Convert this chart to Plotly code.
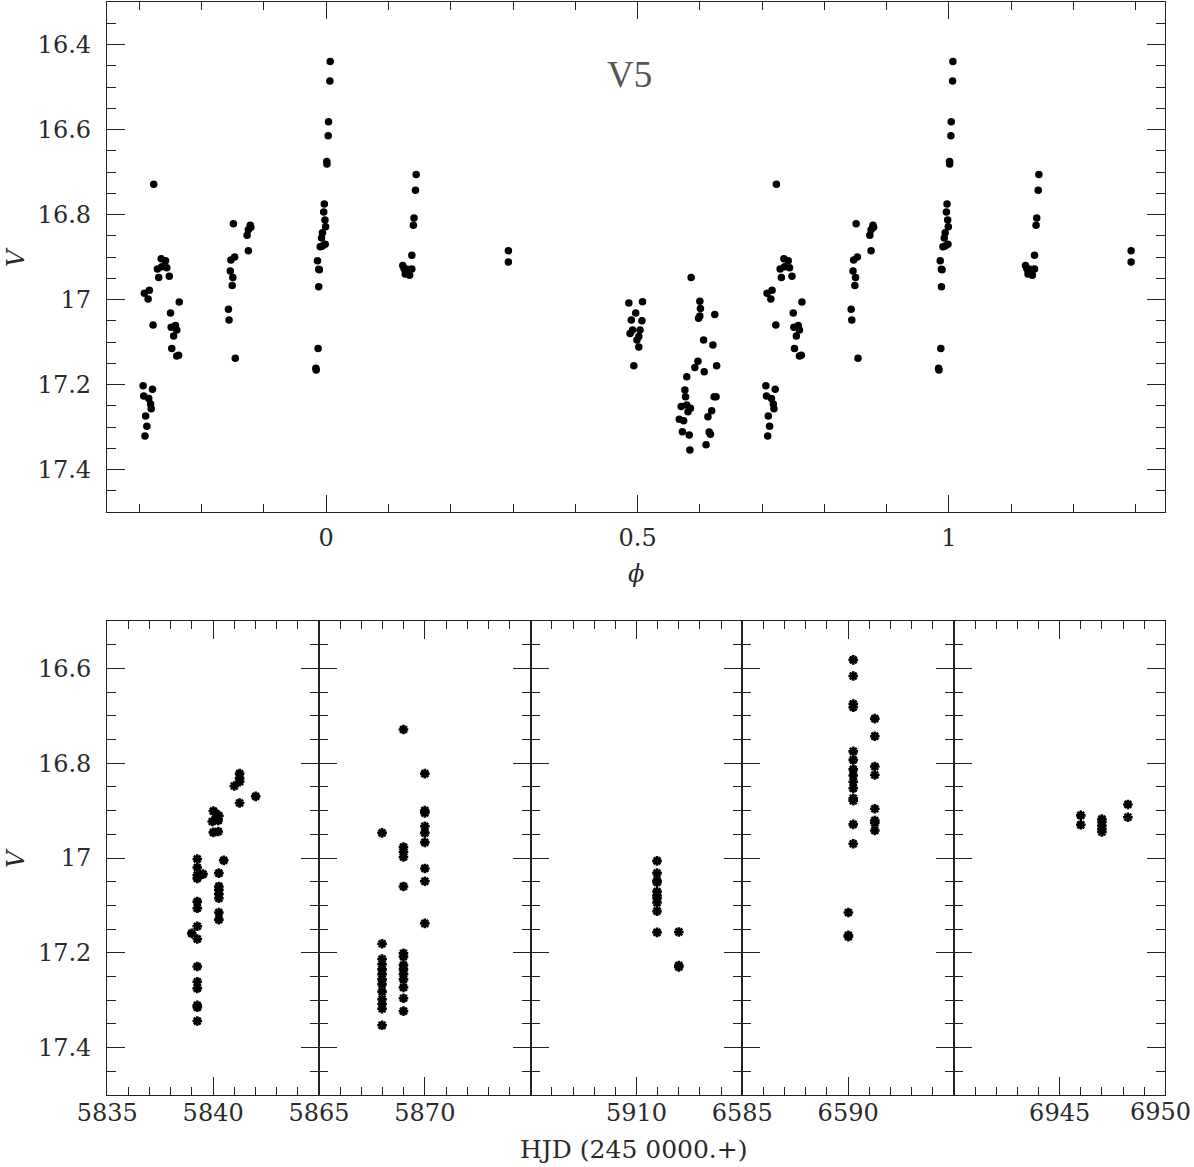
import numpy as np
import plotly.graph_objects as go

W, H = 1194, 1167

# ---------------- phased light curve (one entry per observation) ----------------
phase = [
    # phase ~0.71-0.76
    0.723, 0.708, 0.716, 0.714, 0.722,
    0.735, 0.742, 0.729, 0.736, 0.744, 0.731, 0.748,
    0.764, 0.750, 0.751, 0.758, 0.760, 0.755, 0.752, 0.760, 0.763,
    0.706, 0.721, 0.707, 0.715, 0.718, 0.719, 0.710, 0.712, 0.709,
    # phase ~0.85
    0.851, 0.878, 0.879, 0.875, 0.873, 0.875, 0.853, 0.847, 0.846, 0.850,
    0.849, 0.843, 0.844, 0.854,
    # phase ~0
    0.0064, 0.0059, 0.0037, 0.0032, 0.0010, 0.0012, -0.003, -0.004, -0.002,
    -0.001, -0.006, -0.0075, -0.0096, -0.006, -0.0016, -0.014, -0.012,
    -0.011, -0.012, -0.013, -0.0166, -0.016,
    # phase ~0.13
    0.1445, 0.1434, 0.141, 0.140, 0.1375, 0.123, 0.125, 0.130, 0.1375,
    0.127, 0.134, 0.127,
    # phase ~0.29
    0.2926, 0.2926,
    # phase ~0.5
    0.486, 0.508, 0.497, 0.490, 0.507, 0.504, 0.488, 0.492, 0.499, 0.502,
    0.502, 0.494,
    # phase ~0.6
    0.586, 0.600, 0.601, 0.600, 0.598, 0.624, 0.606, 0.621, 0.597, 0.592,
    0.607, 0.627, 0.579, 0.576, 0.577, 0.623, 0.626, 0.570, 0.579, 0.585,
    0.581, 0.619, 0.613, 0.567, 0.574, 0.572, 0.583, 0.615, 0.617, 0.610,
    0.584,
]
v_phase = [
    16.729, 16.985, 16.978, 16.999, 17.060,
    16.904, 16.909, 16.928, 16.923, 16.925, 16.948, 16.945,
    17.006, 17.032, 17.065, 17.061, 17.072, 17.086, 17.115, 17.133, 17.131,
    17.203, 17.211, 17.227, 17.233, 17.246, 17.257, 17.274, 17.298, 17.321,
    16.822, 16.825, 16.830, 16.836, 16.849, 16.885, 16.900, 16.907, 16.933,
    16.948, 16.967, 17.023, 17.048, 17.138,
    16.440, 16.486, 16.582, 16.615, 16.675, 16.681, 16.775, 16.794, 16.813,
    16.829, 16.843, 16.855, 16.876, 16.874, 16.870, 16.909, 16.929, 16.930,
    16.970, 17.115, 17.162, 17.166,
    16.706, 16.743, 16.808, 16.825, 16.896, 16.920, 16.927, 16.929, 16.928,
    16.940, 16.943, 16.932,
    16.885, 16.912,
    17.008, 17.005, 17.032, 17.048, 17.050, 17.072, 17.080, 17.072, 17.095,
    17.087, 17.112, 17.156,
    16.948, 17.004, 17.021, 17.039, 17.044, 17.035, 17.095, 17.107, 17.145,
    17.160, 17.170, 17.156, 17.182, 17.213, 17.229, 17.229, 17.229, 17.252,
    17.248, 17.256, 17.264, 17.262, 17.276, 17.282, 17.285, 17.311, 17.319,
    17.312, 17.317, 17.342, 17.354,
]

# ---------------- time series: HJD - 2450000 ----------------
hjd = [
    5839.25, 5839.25, 5839.25, 5839.25, 5839.25, 5839.25, 5839.25, 5839.25,
    5839.25, 5839.25, 5839.25, 5839.25, 5839.25, 5839.25,
    5838.99, 5839.52,
    5840.01, 5840.15, 5840.27, 5839.96, 5840.24, 5840.01, 5840.24, 5840.12,
    5840.50,
    5840.27, 5840.27, 5840.27, 5840.27, 5840.27, 5840.27, 5840.27,
    5841.25, 5841.25, 5841.25, 5841.00, 5841.25,
    5842.01,
    5868.99, 5867.98,
    5868.99, 5868.99, 5868.99, 5868.99,
    5870.00, 5870.00, 5870.00, 5870.00, 5870.00, 5870.00, 5870.00, 5870.00, 5870.00,
    5867.98, 5867.98, 5867.98, 5867.98, 5867.98, 5867.98, 5867.98, 5867.98,
    5867.98, 5867.98, 5867.98, 5867.98,
    5868.99, 5868.99, 5868.99, 5868.99, 5868.99, 5868.99, 5868.99, 5868.99, 5868.99,
    5910.97, 5910.97, 5910.97, 5910.97, 5910.97, 5910.97, 5910.97, 5910.97,
    5910.97, 5910.97,
    5912.00, 5912.00, 5912.00,
    6590.24, 6590.24, 6590.24, 6590.24, 6590.24, 6590.24, 6590.24, 6590.24,
    6590.24, 6590.24, 6590.24, 6590.24, 6590.24, 6590.24,
    6590.01, 6590.01, 6590.01,
    6591.26, 6591.26, 6591.26, 6591.26, 6591.26, 6591.26, 6591.26, 6591.26,
    6946.00, 6946.00,
    6947.00, 6947.00, 6947.00, 6947.00, 6947.00,
    6948.23, 6948.23,
]
v_hjd = [
    17.002, 17.020, 17.036, 17.043, 17.092, 17.106, 17.144, 17.171,
    17.229, 17.261, 17.275, 17.311, 17.315, 17.344,
    17.159, 17.034,
    16.901, 16.907, 16.911, 16.923, 16.921, 16.946, 16.944, 16.918,
    17.005,
    17.032, 17.060, 17.067, 17.076, 17.085, 17.115, 17.130,
    16.822, 16.832, 16.839, 16.848, 16.884,
    16.870,
    16.729, 16.947,
    16.977, 16.987, 16.998, 17.060,
    16.822, 16.900, 16.905, 16.933, 16.947, 16.967, 17.022, 17.049, 17.138,
    17.181, 17.213, 17.224, 17.235, 17.245, 17.256, 17.266, 17.282,
    17.298, 17.308, 17.318, 17.353,
    17.201, 17.208, 17.226, 17.235, 17.245, 17.256, 17.273, 17.296, 17.323,
    17.006, 17.032, 17.048, 17.051, 17.071, 17.079, 17.085, 17.094,
    17.112, 17.157,
    17.156, 17.227, 17.230,
    16.582, 16.616, 16.675, 16.682, 16.775, 16.793, 16.813, 16.826,
    16.839, 16.853, 16.874, 16.879, 16.929, 16.970,
    17.115, 17.163, 17.166,
    16.706, 16.743, 16.807, 16.825, 16.896, 16.921, 16.926, 16.942,
    16.910, 16.930,
    16.918, 16.924, 16.932, 16.939, 16.945,
    16.887, 16.914,
]

panel_ranges = [(5835, 5845), (5865, 5875), (5905, 5915), (6585, 6595), (6940, 6950)]
panel_ticktext = [["5835", "5840", ""], ["5865", "5870", ""], ["", "5910", ""],
                  ["6585", "6590", ""], ["", "6945", ""]]
last_edge_label = "6950"

PHASE_RANGE = (-0.352, 1.347)

# ---------------- geometry helpers ----------------
def fx(px):
    return px / W


def fy(py):
    return 1 - py / H


INK = "#222222"
LABEL_INK = "#2a2a2a"
TICKFONT = dict(family="DejaVu Serif", size=24, color=LABEL_INK)

def axis_base():
    return dict(showline=True, linecolor=INK, linewidth=1.3, mirror="allticks",
                ticks="inside", tickcolor=INK, tickwidth=1.1, showgrid=False,
                zeroline=False, automargin=False, tickfont=TICKFONT)

fig = go.Figure()

# phased panel: repeat observations one cycle either side within the plotted range
ph = np.array(phase)
vv = np.array(v_phase)
xs = np.concatenate([ph, ph + 1, ph - 1])
ys = np.concatenate([vv, vv, vv])
m = (xs >= PHASE_RANGE[0]) & (xs <= PHASE_RANGE[1])
fig.add_trace(go.Scatter(x=xs[m], y=ys[m], mode="markers", xaxis="x", yaxis="y",
                         marker=dict(symbol="circle", size=7.5, color="black"),
                         showlegend=False, hoverinfo="skip"))

layout = dict(
    width=W, height=H, autosize=False, template="none",
    margin=dict(l=0, r=0, t=0, b=0),
    paper_bgcolor="white", plot_bgcolor="white", showlegend=False,
)

xa = axis_base()
xa.update(domain=[fx(107), fx(1165)], anchor="y", range=list(PHASE_RANGE),
          tick0=0, dtick=0.5, ticklen=17, ticklabelstandoff=4,
          minor=dict(dtick=0.1, tick0=0, ticks="inside", ticklen=8,
                     tickcolor=INK, tickwidth=1.1, showgrid=False))
ya = axis_base()
ya.update(domain=[fy(512), fy(2)], anchor="x", range=[17.5, 16.3],
          tick0=0, dtick=0.2, ticklen=18, ticklabelstandoff=10,
          minor=dict(dtick=0.05, tick0=0, ticks="inside", ticklen=9,
                     tickcolor=INK, tickwidth=1.1, showgrid=False))
layout["xaxis"] = xa
layout["yaxis"] = ya

edges = [107.3, 319.0, 530.7, 742.3, 954.0, 1165.3]
hj = np.array(hjd)
vh = np.array(v_hjd)
for i, (a, b) in enumerate(panel_ranges):
    n = i + 2
    sel = (hj >= a) & (hj <= b)
    fig.add_trace(go.Scatter(x=hj[sel], y=vh[sel], mode="markers",
                             xaxis=f"x{n}", yaxis=f"y{n}",
                             marker=dict(symbol="asterisk", size=8, color="black",
                                         line=dict(width=2.6, color="black")),
                             showlegend=False, hoverinfo="skip"))
    xb = axis_base()
    xb.update(domain=[fx(edges[i]), fx(edges[i + 1])], anchor=f"y{n}",
              range=[a, b], tickmode="array", tickvals=[a, a + 5, b],
              ticktext=panel_ticktext[i], ticklen=18, ticklabelstandoff=-4,
              minor=dict(dtick=1, tick0=a, ticks="inside", ticklen=8,
                         tickcolor=INK, tickwidth=1.1, showgrid=False))
    yb = axis_base()
    yb.update(domain=[fy(1095), fy(621)], anchor=f"x{n}", range=[17.5, 16.5],
              tick0=0, dtick=0.2, ticklen=18, ticklabelstandoff=10,
              showticklabels=(i == 0),
              minor=dict(dtick=0.05, tick0=0, ticks="inside", ticklen=9,
                         tickcolor=INK, tickwidth=1.1, showgrid=False))
    layout[f"xaxis{n}"] = xb
    layout[f"yaxis{n}"] = yb

title_font = dict(family="DejaVu Serif", size=24, color=LABEL_INK)
layout["annotations"] = [
    dict(text="V5", x=fx(629), y=fy(74), xref="paper", yref="paper",
         showarrow=False, xanchor="center", yanchor="middle",
         font=dict(family="Liberation Serif", size=37, color="#555555")),
    dict(text="<i>ϕ</i>", x=fx(636), y=fy(574), xref="paper", yref="paper",
         showarrow=False, xanchor="center", yanchor="middle", font=title_font),
    dict(text="<i>V</i>", x=fx(16), y=fy(257), xref="paper", yref="paper",
         showarrow=False, xanchor="center", yanchor="middle", textangle=-90,
         font=title_font),
    dict(text="<i>V</i>", x=fx(16), y=fy(858), xref="paper", yref="paper",
         showarrow=False, xanchor="center", yanchor="middle", textangle=-90,
         font=title_font),
    dict(text="HJD (245 0000.+)", x=fx(634), y=fy(1149), xref="paper", yref="paper",
         showarrow=False, xanchor="center", yanchor="middle",
         font=dict(family="DejaVu Serif", size=25, color=LABEL_INK)),
    # right-edge tick label of the last panel (kept inside the page)
    dict(text=last_edge_label, x=fx(1193), y=fy(1112), xref="paper", yref="paper",
         showarrow=False, xanchor="right", yanchor="middle", font=TICKFONT),
]

fig.update_layout(**layout)
fig.write_html("out.html")
